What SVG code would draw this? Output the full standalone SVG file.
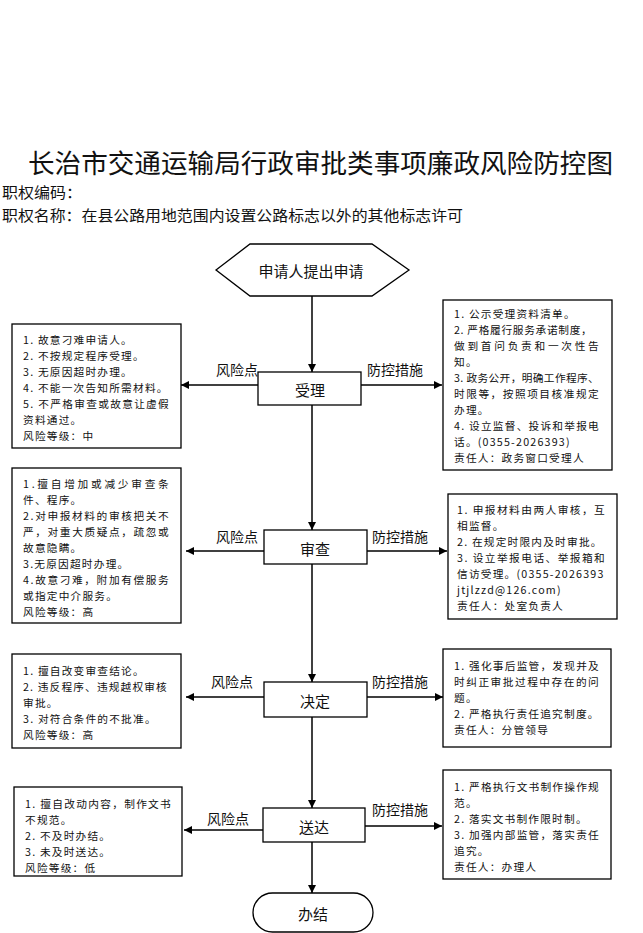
<svg xmlns="http://www.w3.org/2000/svg" width="643" height="933" viewBox="0 0 643 933">
<style>
text{font-family:"Noto Sans CJK SC","Noto Sans",sans-serif;fill:#111;dominant-baseline:central}
.box{fill:#fff;stroke:#000;stroke-width:1.3}
.t{font-size:10.7px;letter-spacing:1.2px}
.lbl{font-size:14px}
.nd{font-size:15px;text-anchor:middle}
.conn{stroke:#000;stroke-width:1.5;fill:none;marker-end:url(#arr)}
</style>
<defs>
<marker id="arr" markerUnits="userSpaceOnUse" viewBox="0 0 10 10" refX="10" refY="5" markerWidth="9" markerHeight="8" orient="auto">
<path d="M0,0 L10,5 L0,10 z" fill="#000"/>
</marker>
</defs>
<rect width="643" height="933" fill="#fff"/>
<g id="header">
<text x="28" y="161" style="font-size:26px" textLength="585" lengthAdjust="spacingAndGlyphs">长治市交通运输局行政审批类事项廉政风险防控图</text>
<text x="2" y="191" style="font-size:15px" textLength="80" lengthAdjust="spacingAndGlyphs">职权编码：</text>
<text x="2" y="214" style="font-size:15px" textLength="461" lengthAdjust="spacingAndGlyphs">职权名称：在县公路用地范围内设置公路标志以外的其他标志许可</text>
</g>
<g id="connectors">
<path class="conn" d="M312,296 L312,372"/>
<path class="conn" d="M312,405 L312,530"/>
<path class="conn" d="M312,564 L312,682"/>
<path class="conn" d="M312,717 L312,808"/>
<path class="conn" d="M312,842 L312,893"/>
<path class="conn" d="M258,385 L181,385"/>
<path class="conn" d="M361,385 L442,385"/>
<path class="conn" d="M264,551 L186,551"/>
<path class="conn" d="M367,551 L447,551"/>
<path class="conn" d="M264,697 L186,697"/>
<path class="conn" d="M367,697 L443,697"/>
<path class="conn" d="M263,830 L184,830"/>
<path class="conn" d="M365,826 L442,826"/>
<text class="lbl" x="216" y="369">风险点</text>
<text class="lbl" x="367" y="369">防控措施</text>
<text class="lbl" x="216" y="536">风险点</text>
<text class="lbl" x="372" y="536">防控措施</text>
<text class="lbl" x="211" y="681">风险点</text>
<text class="lbl" x="372" y="681">防控措施</text>
<text class="lbl" x="207" y="818">风险点</text>
<text class="lbl" x="372" y="809">防控措施</text>
</g>
<g id="start">
<polygon class="box" points="216,270 250,244 372,244 409,270 372,296 250,296"/>
<text class="nd" x="311" y="270">申请人提出申请</text>
</g>
<g id="shouli">
<rect class="box" x="258" y="372" width="103" height="33"/>
<text class="nd" x="310" y="389">受理</text>
</g>
<g id="shencha">
<rect class="box" x="264" y="530" width="103" height="34"/>
<text class="nd" x="315" y="548">审查</text>
</g>
<g id="jueding">
<rect class="box" x="264" y="682" width="103" height="35"/>
<text class="nd" x="315" y="700">决定</text>
</g>
<g id="songda">
<rect class="box" x="263" y="808" width="102" height="34"/>
<text class="nd" x="314" y="826">送达</text>
</g>
<g id="banjie">
<rect class="box" x="253" y="893" width="120" height="39" rx="19.5"/>
<text class="nd" x="313" y="913">办结</text>
</g>
<g id="risk1">
<rect class="box" x="12" y="324" width="169" height="124"/>
<text class="t" x="23" y="339">1. 故意刁难申请人。</text>
<text class="t" x="23" y="355">2. 不按规定程序受理。</text>
<text class="t" x="23" y="371">3. 无原因超时办理。</text>
<text class="t" x="23" y="387">4. 不能一次告知所需材料。</text>
<text class="t" x="23" y="403" textLength="147" lengthAdjust="spacing">5. 不严格审查或故意让虚假</text>
<text class="t" x="23" y="419">资料通过。</text>
<text class="t" x="23" y="435">风险等级：中</text>
</g>
<g id="ctrl1">
<rect class="box" x="443" y="300" width="169" height="170"/>
<text class="t" x="454" y="313">1. 公示受理资料清单。</text>
<text class="t" x="454" y="329" textLength="139" lengthAdjust="spacing">2. 严格履行服务承诺制度，</text>
<text class="t" x="454" y="345" textLength="146" lengthAdjust="spacing">做到首问负责和一次性告</text>
<text class="t" x="454" y="361">知。</text>
<text class="t" x="454" y="377" textLength="146" lengthAdjust="spacing">3. 政务公开，明确工作程序、</text>
<text class="t" x="454" y="393" textLength="146" lengthAdjust="spacing">时限等，按照项目核准规定</text>
<text class="t" x="454" y="409">办理。</text>
<text class="t" x="454" y="425" textLength="146" lengthAdjust="spacing">4. 设立监督、投诉和举报电</text>
<text class="t" x="454" y="441">话。(0355-2026393)</text>
<text class="t" x="454" y="457">责任人：政务窗口受理人</text>
</g>
<g id="risk2">
<rect class="box" x="12" y="468" width="169" height="155"/>
<text class="t" x="23" y="483" textLength="147" lengthAdjust="spacing">1.擅自增加或减少审查条</text>
<text class="t" x="23" y="499">件、程序。</text>
<text class="t" x="23" y="515" textLength="147" lengthAdjust="spacing">2.对申报材料的审核把关不</text>
<text class="t" x="23" y="531" textLength="147" lengthAdjust="spacing">严，对重大质疑点，疏忽或</text>
<text class="t" x="23" y="547">故意隐瞒。</text>
<text class="t" x="23" y="563">3.无原因超时办理。</text>
<text class="t" x="23" y="579" textLength="147" lengthAdjust="spacing">4.故意刁难，附加有偿服务</text>
<text class="t" x="23" y="595">或指定中介服务。</text>
<text class="t" x="23" y="611">风险等级：高</text>
</g>
<g id="ctrl2">
<rect class="box" x="448" y="494" width="169" height="125"/>
<text class="t" x="457" y="509" textLength="149" lengthAdjust="spacing">1. 申报材料由两人审核，互</text>
<text class="t" x="457" y="525">相监督。</text>
<text class="t" x="457" y="541">2. 在规定时限内及时审批。</text>
<text class="t" x="457" y="557" textLength="149" lengthAdjust="spacing">3. 设立举报电话、举报箱和</text>
<text class="t" x="457" y="573">信访受理。(0355-2026393</text>
<text class="t" x="457" y="589">jtjlzzd@126.com)</text>
<text class="t" x="457" y="605">责任人：处室负责人</text>
</g>
<g id="risk3">
<rect class="box" x="12" y="654" width="169" height="94"/>
<text class="t" x="23" y="670">1. 擅自改变审查结论。</text>
<text class="t" x="23" y="686" textLength="145" lengthAdjust="spacing">2. 违反程序、违规越权审核</text>
<text class="t" x="23" y="702">审批。</text>
<text class="t" x="23" y="718">3. 对符合条件的不批准。</text>
<text class="t" x="23" y="734">风险等级：高</text>
</g>
<g id="ctrl3">
<rect class="box" x="443" y="649" width="168" height="98"/>
<text class="t" x="454" y="665" textLength="146" lengthAdjust="spacing">1. 强化事后监管，发现并及</text>
<text class="t" x="454" y="681" textLength="146" lengthAdjust="spacing">时纠正审批过程中存在的问</text>
<text class="t" x="454" y="697">题。</text>
<text class="t" x="454" y="713">2. 严格执行责任追究制度。</text>
<text class="t" x="454" y="729">责任人：分管领导</text>
</g>
<g id="risk4">
<rect class="box" x="14" y="787" width="168" height="89"/>
<text class="t" x="25" y="803" textLength="147" lengthAdjust="spacing">1. 擅自改动内容，制作文书</text>
<text class="t" x="25" y="819">不规范。</text>
<text class="t" x="25" y="835">2. 不及时办结。</text>
<text class="t" x="25" y="851">3. 未及时送达。</text>
<text class="t" x="25" y="867">风险等级：低</text>
</g>
<g id="ctrl4">
<rect class="box" x="443" y="770" width="168" height="109"/>
<text class="t" x="454" y="786" textLength="146" lengthAdjust="spacing">1. 严格执行文书制作操作规</text>
<text class="t" x="454" y="802">范。</text>
<text class="t" x="454" y="818">2. 落实文书制作限时制。</text>
<text class="t" x="454" y="834" textLength="146" lengthAdjust="spacing">3. 加强内部监管，落实责任</text>
<text class="t" x="454" y="850">追究。</text>
<text class="t" x="454" y="866">责任人：办理人</text>
</g>
</svg>
